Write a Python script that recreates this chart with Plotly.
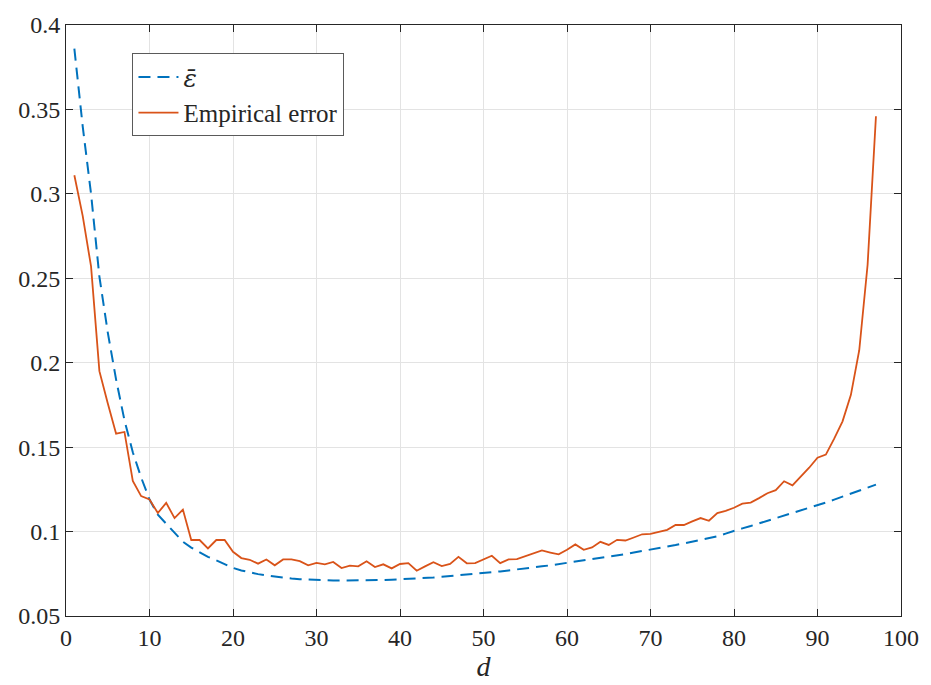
import plotly.graph_objects as go

# Dimension d = 1..97
d_values = list(range(1, 98))

# Theoretical average error (epsilon bar)
eps_bar = [
    0.386, 0.340, 0.300, 0.251, 0.218, 0.190, 0.166, 0.147, 0.132, 0.119,
    0.110, 0.1045, 0.099, 0.094, 0.0905, 0.0875, 0.085, 0.083, 0.0805, 0.0785,
    0.077, 0.0758, 0.0748, 0.074, 0.0733, 0.0727, 0.0722, 0.0718, 0.0715, 0.0713,
    0.0711, 0.0710, 0.0710, 0.0710, 0.0710, 0.0711, 0.0712, 0.0713, 0.0715, 0.0717,
    0.0719, 0.0722, 0.0725, 0.0728, 0.0732, 0.0736, 0.0740, 0.0744, 0.0749, 0.0754,
    0.0759, 0.0764, 0.0770, 0.0775, 0.0781, 0.0787, 0.0794, 0.0800, 0.0807, 0.0814,
    0.0821, 0.0828, 0.0836, 0.0843, 0.0851, 0.0859, 0.0867, 0.0876, 0.0884, 0.0893,
    0.0902, 0.0911, 0.0920, 0.0930, 0.0940, 0.0950, 0.0961, 0.0972, 0.0988, 0.1005,
    0.1019, 0.1033, 0.1048, 0.1063, 0.1078, 0.1093, 0.1108, 0.1124, 0.1140, 0.1156,
    0.1172, 0.1189, 0.1206, 0.1223, 0.1241, 0.1259, 0.1278,
]

# Measured (empirical) error
empirical = [
    0.311, 0.287, 0.257, 0.195, 0.176, 0.158, 0.159, 0.130, 0.121, 0.119,
    0.111, 0.117, 0.108, 0.113, 0.095, 0.095, 0.090, 0.095, 0.095, 0.088,
    0.0843, 0.0833, 0.081, 0.0835, 0.080, 0.0835, 0.0835, 0.0825, 0.080, 0.0815,
    0.0806, 0.082, 0.0784, 0.0798, 0.0794, 0.0824, 0.079, 0.0806, 0.0782, 0.0808,
    0.0813, 0.0768, 0.0794, 0.0819, 0.0796, 0.0809, 0.085, 0.0812, 0.0813, 0.0833,
    0.0857, 0.0813, 0.0835, 0.0837, 0.0853, 0.0872, 0.0888, 0.0876, 0.0865, 0.0892,
    0.0924, 0.0892, 0.0906, 0.0939, 0.0921, 0.0951, 0.0947, 0.0965, 0.0984, 0.0986,
    0.0996, 0.101, 0.1039, 0.1039, 0.106, 0.108, 0.1064, 0.1109, 0.1123, 0.1141,
    0.1165, 0.1172, 0.1198, 0.1227, 0.1245, 0.1298, 0.1274, 0.1323, 0.1378, 0.1437,
    0.1456, 0.1550, 0.1653, 0.181, 0.2074, 0.258, 0.346,
]

FONT = "Liberation Serif, Times New Roman, serif"
AXIS_COLOR = "#262626"
GRID_COLOR = "#e3e3e3"

fig = go.Figure()
fig.add_trace(go.Scatter(
    x=d_values, y=eps_bar, mode="lines",
    name="<span style=\"font-family:'DejaVu Serif'\"><i>ε\u0304</i></span>",
    line=dict(color="#0072BD", width=2, dash="12px,7px"),
))
fig.add_trace(go.Scatter(
    x=d_values, y=empirical, mode="lines", name="Empirical error",
    line=dict(color="#D95319", width=1.8),
))

axis_common = dict(
    showline=True, linecolor=AXIS_COLOR, linewidth=1, mirror="allticks",
    ticks="inside", ticklen=7, tickcolor=AXIS_COLOR, tickwidth=1,
    showgrid=True, gridcolor=GRID_COLOR, gridwidth=1, zeroline=False,
    tickfont=dict(family=FONT, size=24, color=AXIS_COLOR),
)

fig.update_xaxes(
    range=[0, 100], tick0=0, dtick=10,
    title=dict(text="<i>d</i>", font=dict(family=FONT, size=28, color=AXIS_COLOR), standoff=2),
    **axis_common,
)
fig.update_yaxes(range=[0.05, 0.4], tick0=0.05, dtick=0.05, **axis_common)

fig.update_layout(
    width=931, height=685,
    margin=dict(l=66, r=23, t=19, b=69),
    paper_bgcolor="white", plot_bgcolor="white",
    font=dict(family=FONT, color=AXIS_COLOR),
    legend=dict(
        x=0.0796, y=0.952, xanchor="left", yanchor="top",
        bgcolor="white", bordercolor="#5a5a5a", borderwidth=1,
        font=dict(family=FONT, size=25, color=AXIS_COLOR),
        tracegroupgap=0, itemwidth=40,
    ),
    showlegend=True,
)

fig.write_html("out.html")
